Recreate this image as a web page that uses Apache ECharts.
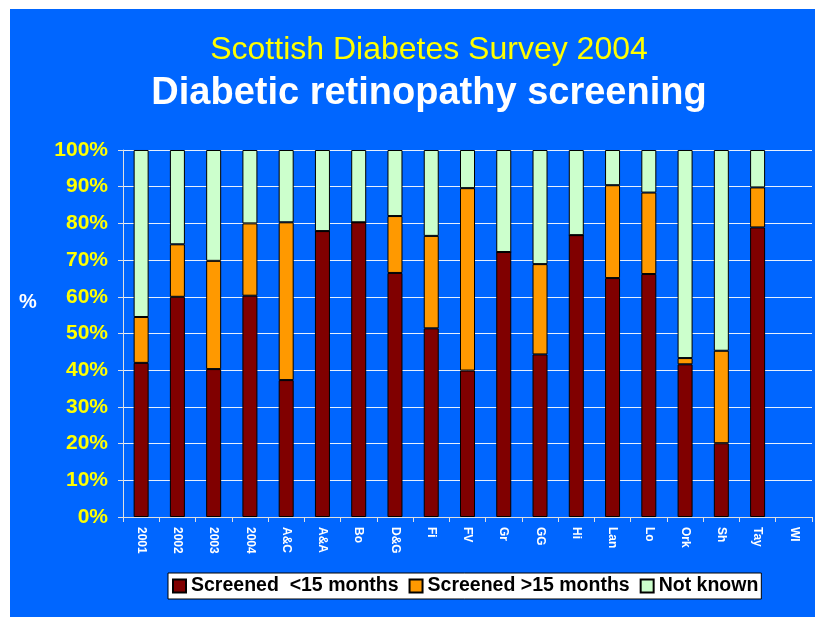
<!DOCTYPE html>
<html>
<head>
<meta charset="utf-8">
<script src="https://cdn.jsdelivr.net/npm/echarts@6/dist/echarts.min.js"></script>
<style>
    html, body { margin: 0; padding: 0; background: #ffffff; }
    #chart { position: absolute; left: 10px; top: 9px; width: 805px; height: 608px; background: #0066FF; }
</style>
</head>
<body>
<div id="chart"></div>
<script>
// values, in percent of patients
const categories = ['2001', '2002', '2003', '2004', 'A&C', 'A&A', 'Bo', 'D&G', 'Fi', 'FV',
    'Gr', 'GG', 'Hi', 'Lan', 'Lo', 'Ork', 'Sh', 'Tay', 'WI'];
const screenedUnder15 = [42.0, 60.0, 40.3, 60.3, 37.3, 77.9, 80.3, 66.5, 51.4, 39.9,
    72.2, 44.3, 76.8, 65.1, 66.2, 41.6, 20.1, 78.9, null];
const screenedOver15 = [12.5, 14.3, 29.5, 19.7, 43.0, 0, 0, 15.5, 25.2, 49.7,
    0, 24.6, 0, 25.3, 22.2, 1.7, 25.2, 10.9, null];
const notKnown = [45.5, 25.7, 30.2, 20.0, 19.7, 22.1, 19.7, 18.0, 23.4, 10.4,
    27.8, 31.1, 23.2, 9.6, 11.6, 56.7, 54.7, 10.2, null];

const seriesNames = ['Screened  <15 months', 'Screened >15 months', 'Not known'];
const seriesColors = ['#800000', '#FF9900', '#CCFFCC'];

const chart = echarts.init(document.getElementById('chart'));

const makeBar = (name, data, color) => ({
    name: name,
    type: 'bar',
    stack: 'total',
    barWidth: 15,
    data: data,
    itemStyle: {
        color: color,
        borderColor: '#000000',
        borderWidth: 1
    }
});

const opt = {
    animation: false,
    textStyle: { fontFamily: 'Liberation Sans, Arial, sans-serif' },
    graphic: [
        {
            type: 'text',
            x: 419, y: 41,
            style: {
                text: 'Scottish Diabetes Survey 2004',
                fill: '#FFFF00',
                font: '32px "Liberation Sans", Arial, sans-serif',
                textAlign: 'center',
                textVerticalAlign: 'middle'
            }
        },
        {
            type: 'text',
            x: 419, y: 85,
            style: {
                text: 'Diabetic retinopathy screening',
                fill: '#FFFFFF',
                font: 'bold 38px "Liberation Sans", Arial, sans-serif',
                textAlign: 'center',
                textVerticalAlign: 'middle'
            }
        },
        {
            type: 'text',
            x: 18, y: 293,
            style: {
                text: '%',
                fill: '#FFFFFF',
                font: 'bold 20px "Liberation Sans", Arial, sans-serif',
                textAlign: 'center',
                textVerticalAlign: 'middle'
            }
        }
    ],
    legend: {
        left: 158,
        top: 564,
        orient: 'horizontal',
        data: seriesNames,
        icon: 'rect',
        itemWidth: 13,
        itemHeight: 13,
        itemGap: 10,
        padding: [3, 3, 3, 4],
        backgroundColor: '#FFFFFF',
        borderColor: '#000000',
        borderWidth: 1,
        borderRadius: 0,
        textStyle: {
            color: '#000000',
            fontWeight: 'bold',
            fontSize: 19.5,
            fontFamily: 'Liberation Sans, Arial, sans-serif'
        }
    },
    grid: {
        left: 113,
        right: 3,
        top: 141,
        bottom: 100,
        containLabel: false
    },
    xAxis: {
        type: 'category',
        data: categories,
        axisLine: { lineStyle: { color: '#E0E0E0', width: 1 } },
        axisTick: { show: true, length: 5, lineStyle: { color: '#E0E0E0' } },
        axisLabel: {
            rotate: -90,
            margin: 10,
            color: '#FFFFFF',
            fontWeight: 'bold',
            fontSize: 12,
            interval: 0
        }
    },
    yAxis: {
        type: 'value',
        min: 0,
        max: 100,
        interval: 10,
        axisLine: { show: true, lineStyle: { color: '#E0E0E0', width: 1 } },
        axisTick: { show: true, length: 5, lineStyle: { color: '#E0E0E0' } },
        splitLine: { show: true, lineStyle: { color: '#FFFFFF', width: 1, opacity: 0.9 } },
        axisLabel: {
            margin: 15,
            color: '#FFFF00',
            fontWeight: 'bold',
            fontSize: 21,
            formatter: '{value}%'
        }
    },
    series: [
        makeBar(seriesNames[0], screenedUnder15, seriesColors[0]),
        makeBar(seriesNames[1], screenedOver15, seriesColors[1]),
        makeBar(seriesNames[2], notKnown, seriesColors[2])
    ]
};

chart.setOption(opt);
</script>
</body>
</html>
